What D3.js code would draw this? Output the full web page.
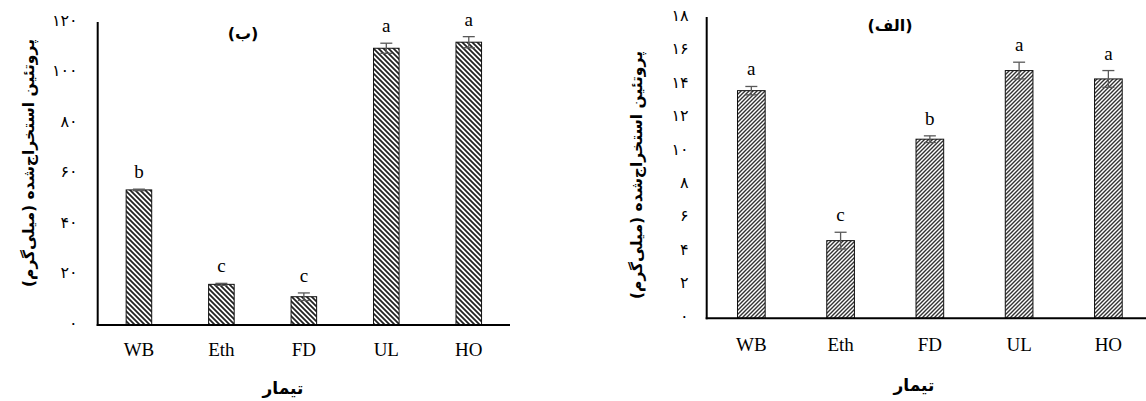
<!DOCTYPE html>
<html><head><meta charset="utf-8">
<script src="https://cdn.jsdelivr.net/npm/d3@7"></script>
<style>body{margin:0;background:#fff}</style>
</head><body><svg id="c" width="1146" height="401"></svg>
<script>
const categories = ["WB", "Eth", "FD", "UL", "HO"];
// Panel (ب) – left
const valuesB = [53.5, 16.1, 11.2, 109.6, 112.0];
const errorsB = [0.3, 0.4, 1.5, 2.0, 2.2];
const lettersB = ["b", "c", "c", "a", "a"];
const ticksB = [0, 20, 40, 60, 80, 100, 120];
// Panel (الف) – right
const valuesA = [13.6, 4.64, 10.7, 14.8, 14.3];
const errorsA = [0.25, 0.5, 0.2, 0.5, 0.5];
const lettersA = ["a", "c", "b", "a", "a"];
const ticksA = [0, 2, 4, 6, 8, 10, 12, 14, 16, 18];
const titleB = "(ب)";
const titleA = "(الف)";
const yTitle = "پروتئین استخراج‌شده (میلی‌گرم)";
const xTitle = "تیمار";

const fa = n => String(n).replace(/\d/g, d => "۰۱۲۳۴۵۶۷۸۹"[d]);
const svg = d3.select("#c");
const defs = svg.append("defs");

function hatch(id, size, dir, sw, col) {
  const p = defs.append("pattern").attr("id", id).attr("patternUnits", "userSpaceOnUse")
    .attr("width", size).attr("height", size);
  p.append("rect").attr("width", size).attr("height", size).attr("fill", "#fff");
  const s = size;
  const d = dir === "back"
    ? `M0,0L${s},${s}M${-s/2},${s/2}L${s/2},${s*1.5}M${s/2},${-s/2}L${s*1.5},${s/2}`
    : `M0,${s}L${s},0M${-s/2},${s/2}L${s/2},${-s/2}M${s/2},${s*1.5}L${s*1.5},${s/2}`;
  p.append("path").attr("d", d).attr("stroke", col).attr("stroke-width", sw);
}
hatch("hB", 5, "back", 1.8, "#222");
hatch("hA", 4, "fwd", 1.4, "#333");

const serif = "'Liberation Serif','Times New Roman',serif";
const fafont = "'DejaVu Sans',sans-serif";

function panel(cfg) {
  const g = svg.append("g");
  const x = d3.scaleBand().domain(categories).range([cfg.x0, cfg.x1])
    .paddingInner(0.69).paddingOuter(0.345);
  const y = d3.scaleLinear().domain([0, cfg.max]).range([cfg.yBase, cfg.yTop]);

  // y tick labels
  const ax = g.append("g").attr("transform", `translate(${cfg.x0},-2)`)
    .call(d3.axisLeft(y).tickValues(cfg.ticks).tickSize(0).tickPadding(cfg.pad).tickFormat(fa));
  ax.select(".domain").remove();
  ax.selectAll("text").attr("font-family", fafont).attr("font-size", 16).attr("fill", "#000");

  // x tick labels
  g.selectAll(".xl").data(categories).enter().append("text")
    .attr("x", d => x(d) + x.bandwidth() / 2).attr("y", cfg.yBase + cfg.xlOff)
    .attr("text-anchor", "middle").attr("font-family", serif).attr("font-size", 19)
    .text(d => d);

  // bars
  const data = categories.map((c, i) => ({c, v: cfg.values[i], e: cfg.errors[i], l: cfg.letters[i]}));
  g.selectAll(".bar").data(data).enter().append("rect")
    .attr("x", d => x(d.c)).attr("width", x.bandwidth())
    .attr("y", d => y(d.v)).attr("height", d => y(0) - y(d.v))
    .attr("fill", `url(#${cfg.pat})`).attr("stroke", "#111").attr("stroke-width", 1);

  // error bars
  const eb = g.selectAll(".eb").data(data).enter().append("g").attr("stroke", "#595959").attr("stroke-width", 1.3);
  eb.append("line").attr("x1", d => x(d.c) + x.bandwidth() / 2).attr("x2", d => x(d.c) + x.bandwidth() / 2)
    .attr("y1", d => y(d.v + d.e)).attr("y2", d => y(d.v - d.e));
  eb.append("line").attr("x1", d => x(d.c) + x.bandwidth() / 2 - 6).attr("x2", d => x(d.c) + x.bandwidth() / 2 + 6)
    .attr("y1", d => y(d.v + d.e)).attr("y2", d => y(d.v + d.e));
  eb.append("line").attr("x1", d => x(d.c) + x.bandwidth() / 2 - 6).attr("x2", d => x(d.c) + x.bandwidth() / 2 + 6)
    .attr("y1", d => y(d.v - d.e)).attr("y2", d => y(d.v - d.e));

  // letters
  g.selectAll(".lt").data(data).enter().append("text")
    .attr("x", d => x(d.c) + x.bandwidth() / 2).attr("y", d => y(d.v + d.e) - 11)
    .attr("text-anchor", "middle").attr("font-family", serif).attr("font-size", 19)
    .text(d => d.l);

  // axis lines
  g.append("line").attr("x1", cfg.x0).attr("x2", cfg.x0).attr("y1", cfg.yTop).attr("y2", cfg.yBase + 1)
    .attr("stroke", "#000").attr("stroke-width", 2);
  g.append("line").attr("x1", cfg.x0 - 1).attr("x2", cfg.x1).attr("y1", cfg.yBase).attr("y2", cfg.yBase)
    .attr("stroke", "#000").attr("stroke-width", 2);

  // titles
  g.append("text").attr("x", cfg.tX).attr("y", cfg.tY).attr("text-anchor", "middle")
    .attr("font-family", fafont).attr("font-weight", "bold").attr("font-size", 16).text(cfg.title);
  g.append("text").attr("x", cfg.xtX).attr("y", cfg.xtY).attr("text-anchor", "middle")
    .attr("font-family", fafont).attr("font-weight", "bold").attr("font-size", 17).text(xTitle);
  g.append("text").attr("transform", `translate(${cfg.ytX},${cfg.ytY}) rotate(-90)`)
    .attr("text-anchor", "middle").attr("dominant-baseline", "central")
    .attr("font-family", fafont).attr("font-weight", "bold").attr("font-size", 15.5).text(yTitle);
}

panel({x0: 97.7, x1: 510, yBase: 325, yTop: 22, max: 120, ticks: ticksB, pad: 20,
  values: valuesB, errors: errorsB, letters: lettersB, pat: "hB", xlOff: 31,
  title: titleB, tX: 243, tY: 39, xtX: 283, xtY: 394, ytX: 29, ytY: 163});
panel({x0: 706.7, x1: 1153, yBase: 318.3, yTop: 17, max: 18, ticks: ticksA, pad: 18,
  values: valuesA, errors: errorsA, letters: lettersA, pat: "hA", xlOff: 33,
  title: titleA, tX: 890, tY: 31, xtX: 914, xtY: 391, ytX: 637, ytY: 175});
</script></body></html>
